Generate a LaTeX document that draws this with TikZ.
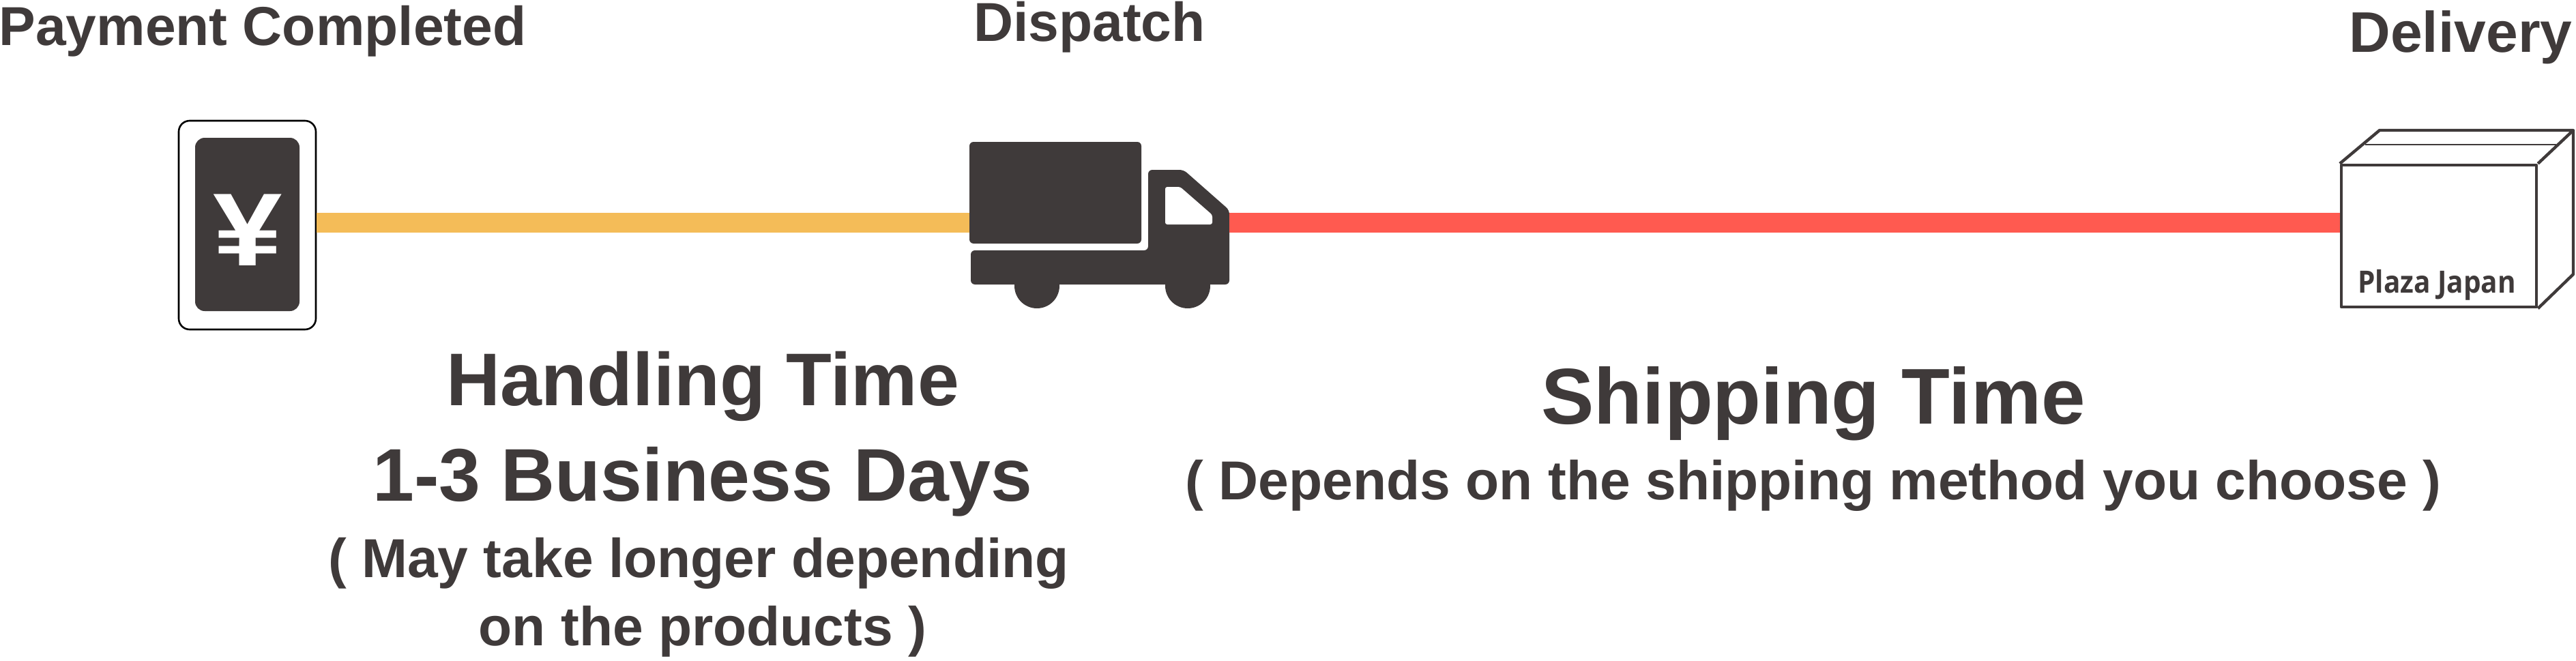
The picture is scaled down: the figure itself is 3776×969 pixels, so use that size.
\documentclass[tikz,border=0pt]{standalone}
\usepackage{fontspec}
\setmainfont{Liberation Sans}
\newfontfamily\parcelfont{Open Sans}
\usetikzlibrary{positioning}
\definecolor{ink}{RGB}{63,58,58}
\definecolor{handlingbar}{RGB}{244,188,88}
\definecolor{shippingbar}{RGB}{255,90,80}
\newcommand{\StageFont}{\fontsize{40.2}{44}\selectfont\bfseries}
\newcommand{\TitleFont}{\fontsize{54.7}{60}\selectfont\bfseries}
\tikzset{
  stage/.style={inner sep=0pt, outer sep=0pt, text=ink, font=\StageFont},
  title/.style={inner sep=0pt, outer sep=0pt, text=ink, font=\TitleFont},
  rail/.style={line width=14.5pt},
  solid ink/.style={fill=ink, draw=none, rounded corners=3pt},
  parcel edge/.style={draw=ink, line width=2.2pt, line join=round}
}
\begin{document}
\begin{tikzpicture}[x=0.5pt, y=-0.5pt]
  \useasboundingbox (0,0) rectangle (3776,969);
  % icons
  \node[draw=black, line width=1.3pt, rounded corners=8pt, minimum width=100.5pt, minimum height=153pt, inner sep=0pt] (phone) at (362.5,330) {};
  \node[solid ink, rounded corners=7pt, minimum width=76.5pt, minimum height=127pt, inner sep=0pt] (screen) at (362.5,329) {};
  \node[inner sep=0pt, text=white, xscale=1.2, font=\fontsize{76}{80}\selectfont\bfseries] (yen) at (363,337) {¥};
  \node[solid ink, minimum width=126pt, minimum height=74.5pt, inner sep=0pt] (cargo) at (1547,282.5) {};
  \fill[ink, rounded corners=3pt] (1423,367) -- (1683,367) -- (1683,249) -- (1735,249) -- (1802,308) -- (1802,417) -- (1423,417) -- cycle;
  \fill[ink] (1520,419) circle[radius=33];
  \fill[ink] (1741,419) circle[radius=33];
  \fill[white, rounded corners=1.5pt] (1708,274) -- (1730,274) -- (1777,315) -- (1777,329) -- (1708,329) -- cycle;
  \coordinate (cabnose) at (1802,326.5);
  \node[parcel edge, draw, fill=white, minimum width=143pt, minimum height=104pt, inner sep=0pt] (parcel) at (3575,346) {};
  \draw[parcel edge] (parcel.north west) -- (3488,191) -- (3772,191) -- (parcel.north east);
  \draw[parcel edge] (3772,191) -- (3772,402) -- (parcel.south east);
  \draw[draw=ink, line width=1pt] (3467,212) -- (3747,212);
  \node[inner sep=0pt, text=ink, xscale=0.9, font=\parcelfont\fontsize{22.5}{26}\selectfont\bfseries] (parcellabel) at (3572,418) {Plaza Japan};
  % rails
  \coordinate (railline) at (0,326.5);
  \draw[rail, handlingbar] (phone.east |- railline) -- (cargo.west |- railline);
  \draw[rail, shippingbar] (cabnose) -- (parcel.west |- railline);
  % stages
  \node[stage] (paid) at (385,46) {Payment Completed};
  \node[stage] (dispatch) at (1597,40) {Dispatch};
  \node[stage, font=\fontsize{42}{46}\selectfont\bfseries] (delivery) at (3607,55) {Delivery};
  % handling time
  \node[title] (handling) at (1030,566) {Handling Time};
  \node[title, below=19pt of handling] (days) {1-3 Business Days};
  \node[stage, below=15.5pt of days, xshift=-3pt] (maylonger) {( May take longer depending};
  \node[stage, below=12.5pt of maylonger, xshift=3pt] (products) {on the products )};
  % shipping time
  \node[title, font=\fontsize{58}{62}\selectfont\bfseries] (shipping) at (2658,592) {Shipping Time};
  \node[stage, below=14pt of shipping] (depends) {( Depends on the shipping method you choose )};
\end{tikzpicture}
\end{document}
